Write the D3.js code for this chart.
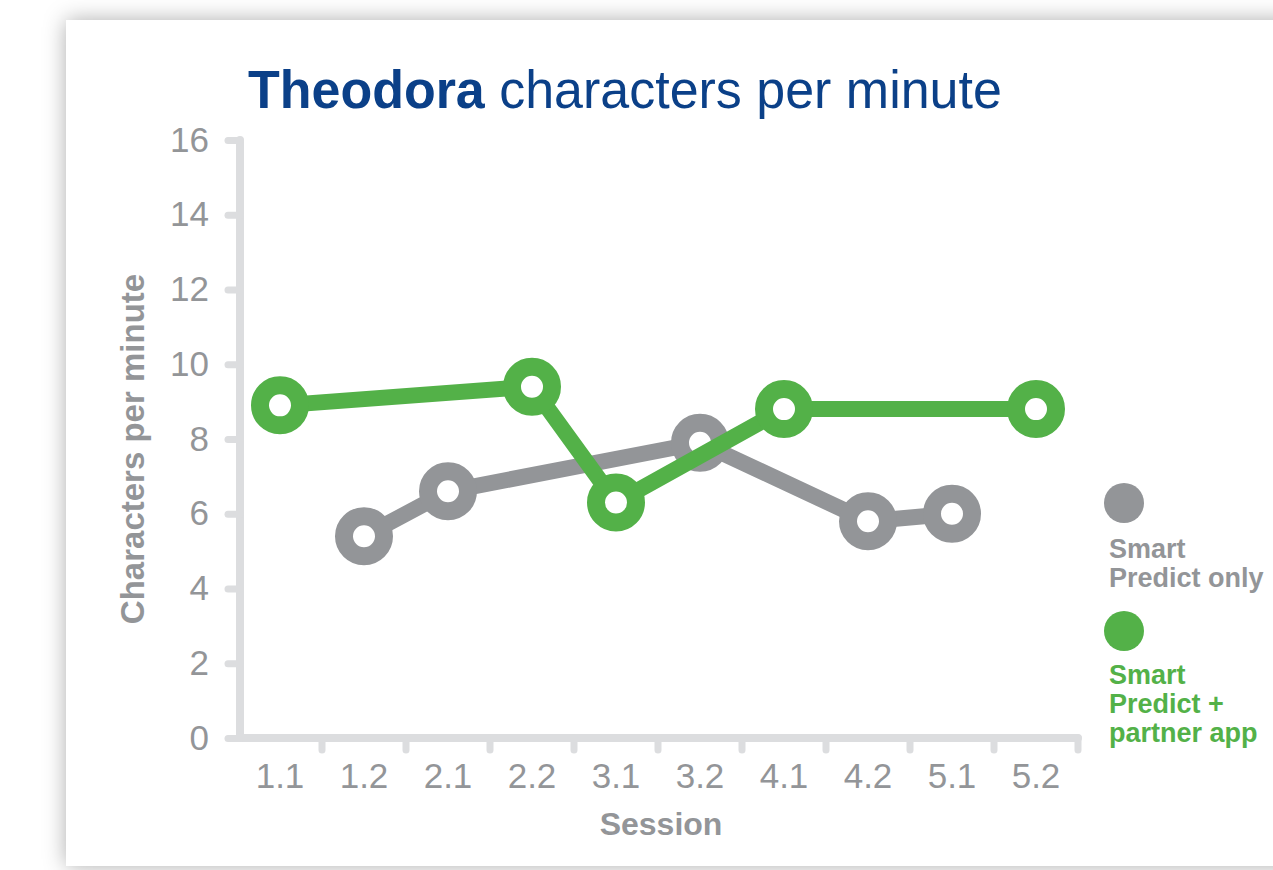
<!DOCTYPE html>
<html>
<head>
<meta charset="utf-8">
<script src="https://cdn.jsdelivr.net/npm/d3@7"></script>
<style>
  body { margin: 0; background: #fff; overflow: hidden; }
  text { font-family: "Liberation Sans", Arial, Helvetica, sans-serif; }
</style>
</head>
<body>
<div id="chart"></div>
<script>
const sessions = ['1.1', '1.2', '2.1', '2.2', '3.1', '3.2', '4.1', '4.2', '5.1', '5.2'];
const predictOnly = [null, 5.4, 6.6, null, null, 7.9, null, 5.8, 6.0, null];
const predictPartner = [8.9, null, null, 9.4, 6.3, null, 8.8, null, null, 8.8];
const yTicks = [0, 2, 4, 6, 8, 10, 12, 14, 16];

const GRAY = '#939598';
const GREEN = '#53b148';
const BLUE = '#0b4088';
const AXIS = '#dcdddf';

const W = 1273, H = 870;

const svg = d3.select('#chart').append('svg')
  .attr('width', W)
  .attr('height', H);

// card with soft shadow
const defs = svg.append('defs');
defs.append('filter')
  .attr('id', 'shadow')
  .attr('x', '-10%').attr('y', '-10%')
  .attr('width', '120%').attr('height', '120%')
  .append('feDropShadow')
  .attr('dx', 0).attr('dy', 0)
  .attr('stdDeviation', 11)
  .attr('flood-color', '#000')
  .attr('flood-opacity', 0.32);

svg.append('rect')
  .attr('x', 66).attr('y', 20)
  .attr('width', 1320).attr('height', 846)
  .attr('fill', '#fff')
  .attr('filter', 'url(#shadow)');

const x = d3.scaleBand().domain(sessions).range([238, 1078]);
const y = d3.scaleLinear().domain([0, 16]).range([738, 140]);

// title
const title = svg.append('text')
  .attr('fill', BLUE)
  .attr('font-size', 53);
title.append('tspan').attr('font-weight', 'bold').text('Theodora');
title.append('tspan').text(' characters per minute');
const tw = title.node().getComputedTextLength();
title.attr('transform', `translate(248,108) scale(${754 / tw},1)`);

// axis frame (L shape)
svg.append('path')
  .attr('d', `M240,${y(16)} L240,${y(0)} L1078,${y(0)}`)
  .attr('fill', 'none')
  .attr('stroke', AXIS)
  .attr('stroke-width', 8)
  .attr('stroke-linejoin', 'round')
  .attr('stroke-linecap', 'round');

// y axis
const yg = svg.append('g')
  .attr('transform', 'translate(240,0)')
  .call(d3.axisLeft(y).tickValues(yTicks).tickSize(12).tickPadding(19));
yg.select('.domain').remove();
yg.selectAll('.tick line')
  .attr('stroke', AXIS)
  .attr('stroke-width', 7)
  .attr('stroke-linecap', 'round');
yg.selectAll('.tick text')
  .attr('fill', GRAY)
  .attr('font-size', 35)
  .attr('font-family', '"Liberation Sans", Arial, sans-serif');

// x axis: labels at band centres
const xg = svg.append('g')
  .attr('transform', `translate(0,${y(0)})`)
  .call(d3.axisBottom(x).tickSize(0).tickPadding(25));
xg.select('.domain').remove();
xg.selectAll('.tick text')
  .attr('fill', GRAY)
  .attr('font-size', 35)
  .attr('font-family', '"Liberation Sans", Arial, sans-serif');

// x axis: small ticks between sessions
svg.append('g')
  .selectAll('line')
  .data(sessions)
  .join('line')
  .attr('x1', d => x(d) + x.bandwidth())
  .attr('x2', d => x(d) + x.bandwidth())
  .attr('y1', y(0))
  .attr('y2', y(0) + 12)
  .attr('stroke', AXIS)
  .attr('stroke-width', 7)
  .attr('stroke-linecap', 'round');

// axis titles
svg.append('text')
  .attr('x', 661).attr('y', 835)
  .attr('text-anchor', 'middle')
  .attr('font-weight', 'bold')
  .attr('font-size', 32)
  .attr('fill', GRAY)
  .text('Session');

svg.append('text')
  .attr('transform', 'translate(144,449) rotate(-90)')
  .attr('text-anchor', 'middle')
  .attr('font-weight', 'bold')
  .attr('font-size', 33)
  .attr('fill', GRAY)
  .text('Characters per minute');

// series
const drawSeries = (values, color) => {
  const pts = sessions
    .map((s, i) => ({ s, v: values[i] }))
    .filter(d => d.v != null);
  const line = d3.line()
    .x(d => x(d.s) + x.bandwidth() / 2)
    .y(d => y(d.v));
  const g = svg.append('g');
  g.append('path')
    .datum(pts)
    .attr('d', line)
    .attr('fill', 'none')
    .attr('stroke', color)
    .attr('stroke-width', 16)
    .attr('stroke-linejoin', 'round');
  g.selectAll('circle')
    .data(pts)
    .join('circle')
    .attr('cx', d => x(d.s) + x.bandwidth() / 2)
    .attr('cy', d => y(d.v))
    .attr('r', 20)
    .attr('fill', '#fff')
    .attr('stroke', color)
    .attr('stroke-width', 18);
};

drawSeries(predictOnly, GRAY);
drawSeries(predictPartner, GREEN);

// legend
const legend = [
  { color: GRAY, cy: 503, lines: ['Smart', 'Predict only'], y0: 558 },
  { color: GREEN, cy: 631, lines: ['Smart', 'Predict +', 'partner app'], y0: 684 },
];
legend.forEach(l => {
  svg.append('circle')
    .attr('cx', 1124).attr('cy', l.cy)
    .attr('r', 20)
    .attr('fill', l.color);
  svg.append('g')
    .selectAll('text')
    .data(l.lines)
    .join('text')
    .attr('x', 1109)
    .attr('y', (d, i) => l.y0 + i * 29)
    .attr('font-weight', 'bold')
    .attr('font-size', 27)
    .attr('fill', l.color)
    .text(d => d);
});
</script>
</body>
</html>
